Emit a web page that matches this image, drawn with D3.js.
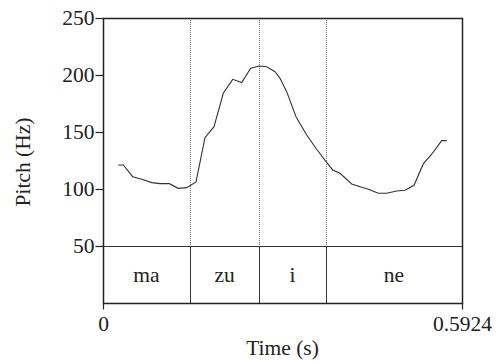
<!DOCTYPE html>
<html>
<head>
<meta charset="utf-8">
<script src="https://cdn.jsdelivr.net/npm/d3@7"></script>
<style>
  body { margin: 0; background: #fff; }
  svg { display: block; }
  text { font-family: "Liberation Serif", "Times New Roman", serif; fill: #222; }
</style>
</head>
<body>
<div id="chart"></div>
<script>
// pitch track (time in s, f0 in Hz)
const times = [0.0252, 0.0335, 0.0490, 0.0639, 0.0804, 0.0941, 0.1094, 0.1243, 0.1381, 0.1535,
  0.1683, 0.1832, 0.1985, 0.2140, 0.2289, 0.2437, 0.2579, 0.2701, 0.2838, 0.2921,
  0.3031, 0.3185, 0.3361, 0.3526, 0.3680, 0.3790, 0.3911, 0.4104, 0.4269, 0.4378,
  0.4543, 0.4681, 0.4846, 0.4983, 0.5132, 0.5285, 0.5424, 0.5589, 0.5672];
const pitch = [121.1, 121.1, 110.8, 108.5, 105.6, 104.7, 104.7, 100.6, 101.2, 106.2,
  145.0, 154.7, 184.0, 196.2, 193.3, 205.9, 207.9, 207.3, 202.9, 197.1,
  185.4, 163.4, 147.4, 134.9, 124.0, 116.7, 113.8, 104.4, 101.5, 99.8,
  96.3, 96.3, 98.3, 98.9, 103.3, 122.0, 130.5, 142.4, 142.4];

// syllable tier
const syllables = ["ma", "zu", "i", "ne"];
const boundaries = [0, 0.1436, 0.2579, 0.3675, 0.5924];

const yTicks = [50, 100, 150, 200, 250];
const xTicks = [0, 0.5924];

const width = 501, height = 364;
const mLeft = 103, mRight = 462, mTop = 18, tierTop = 246, mBottom = 303;
const fontSize = "21.5px";

const svg = d3.select("#chart").append("svg")
  .attr("width", width)
  .attr("height", height);

const x = d3.scaleLinear().domain([0, 0.5924]).range([mLeft, mRight]);
const y = d3.scaleLinear().domain([50, 250]).range([tierTop, mTop]);

// dotted boundary lines in the pitch area
svg.selectAll("line.bound")
  .data(boundaries.slice(1, -1))
  .enter().append("line")
  .attr("class", "bound")
  .attr("x1", d => Math.round(x(d)) + 0.5)
  .attr("x2", d => Math.round(x(d)) + 0.5)
  .attr("y1", mTop)
  .attr("y2", tierTop)
  .attr("stroke", "#777")
  .attr("stroke-width", 1)
  .attr("stroke-dasharray", "1,1");

// solid boundary lines in tier
svg.selectAll("line.tier")
  .data(boundaries.slice(1, -1))
  .enter().append("line")
  .attr("class", "tier")
  .attr("x1", d => Math.round(x(d)) + 0.5)
  .attr("x2", d => Math.round(x(d)) + 0.5)
  .attr("y1", tierTop)
  .attr("y2", mBottom)
  .attr("stroke", "#333")
  .attr("stroke-width", 1);

// pitch line
const line = d3.line()
  .x((d, i) => x(times[i]))
  .y(d => y(d));

svg.append("path")
  .datum(pitch)
  .attr("d", line)
  .attr("fill", "none")
  .attr("stroke", "#333")
  .attr("stroke-width", 1.1);

// frame
svg.append("rect")
  .attr("x", mLeft + 0.5)
  .attr("y", mTop + 0.5)
  .attr("width", mRight - mLeft)
  .attr("height", mBottom - mTop)
  .attr("fill", "none")
  .attr("stroke", "#222")
  .attr("stroke-width", 1.5);

svg.append("line")
  .attr("x1", mLeft).attr("x2", mRight)
  .attr("y1", tierTop + 0.5).attr("y2", tierTop + 0.5)
  .attr("stroke", "#333");

// y axis
const yAxis = svg.append("g")
  .attr("transform", "translate(" + (mLeft + 0.5) + ",0)")
  .call(d3.axisLeft(y).tickValues(yTicks).tickSize(8).tickPadding(1).tickFormat(d3.format("d")));
yAxis.select(".domain").remove();
yAxis.selectAll("line").attr("stroke", "#222").attr("stroke-width", 1.2);
yAxis.selectAll("text")
  .attr("fill", "#222")
  .style("font-family", '"Liberation Serif", serif')
  .style("font-size", fontSize);

// x axis
const xAxis = svg.append("g")
  .attr("transform", "translate(0," + (mBottom + 0.5) + ")")
  .call(d3.axisBottom(x).tickValues(xTicks).tickSize(6).tickPadding(6)
    .tickFormat(d => d === 0 ? "0" : d3.format(".4f")(d)));
xAxis.select(".domain").remove();
xAxis.selectAll("line").attr("stroke", "#222").attr("stroke-width", 1.2);
xAxis.selectAll("text")
  .attr("fill", "#222")
  .style("font-family", '"Liberation Serif", serif')
  .style("font-size", fontSize);

// syllable labels
svg.selectAll("text.syl")
  .data(syllables)
  .enter().append("text")
  .attr("class", "syl")
  .attr("x", (d, i) => x((boundaries[i] + boundaries[i + 1]) / 2))
  .attr("y", 282)
  .attr("text-anchor", "middle")
  .style("font-size", fontSize)
  .text(d => d);

// axis titles
svg.append("text")
  .attr("x", (mLeft + mRight) / 2)
  .attr("y", 355)
  .attr("text-anchor", "middle")
  .style("font-size", fontSize)
  .text("Time (s)");

svg.append("text")
  .attr("transform", "translate(30,162) rotate(-90)")
  .attr("text-anchor", "middle")
  .style("font-size", fontSize)
  .text("Pitch (Hz)");
</script>
</body>
</html>
